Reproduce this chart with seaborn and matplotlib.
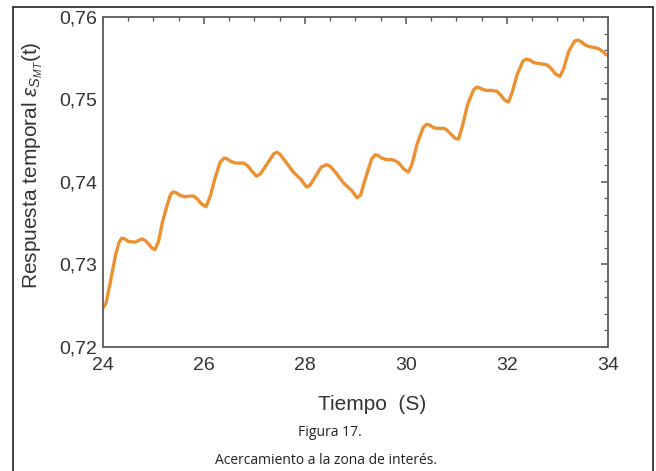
import numpy as np
import pandas as pd
import matplotlib
matplotlib.use("Agg")
import matplotlib.pyplot as plt
from matplotlib.ticker import MultipleLocator, FuncFormatter
from matplotlib.lines import Line2D
import seaborn as sns

tiempo = [24.00, 24.06, 24.15, 24.25, 24.32, 24.37, 24.43, 24.50, 24.63, 24.70, 24.77,
          24.84, 24.90, 24.97, 25.03, 25.10, 25.18, 25.28, 25.34, 25.39, 25.45, 25.52,
          25.62, 25.72, 25.79, 25.86, 25.94, 26.04, 26.12, 26.22, 26.32, 26.40, 26.46,
          26.53, 26.62, 26.78, 26.86, 26.95, 27.04, 27.12, 27.25, 27.38, 27.44, 27.50,
          27.60, 27.77, 27.92, 28.03, 28.10, 28.20, 28.32, 28.43, 28.50, 28.60, 28.76,
          28.92, 29.03, 29.10, 29.20, 29.32, 29.39, 29.45, 29.52, 29.62, 29.72, 29.78,
          29.86, 29.95, 30.05, 30.12, 30.22, 30.34, 30.41, 30.47, 30.54, 30.61, 30.75,
          30.81, 30.89, 30.97, 31.04, 31.11, 31.22, 31.34, 31.40, 31.46, 31.53, 31.60,
          31.70, 31.80, 31.88, 31.96, 32.03, 32.10, 32.20, 32.32, 32.39, 32.45, 32.52,
          32.59, 32.70, 32.79, 32.87, 32.96, 33.05, 33.12, 33.22, 33.34, 33.41, 33.47,
          33.55, 33.64, 33.72, 33.80, 33.88, 33.97]
respuesta = [0.7247, 0.7253, 0.7280, 0.7312, 0.7327, 0.7332, 0.7331, 0.7328, 0.7327, 0.7329, 0.7331,
             0.7329, 0.7325, 0.7320, 0.7318, 0.7328, 0.7352, 0.7374, 0.7385, 0.7388, 0.7387, 0.7384,
             0.7382, 0.7383, 0.7383, 0.7380, 0.7374, 0.7370, 0.7382, 0.7405, 0.7424, 0.7429, 0.7428,
             0.7425, 0.7423, 0.7423, 0.7420, 0.7413, 0.7407, 0.7410, 0.7422, 0.7434, 0.7436, 0.7434,
             0.7426, 0.7412, 0.7403, 0.7394, 0.7396, 0.7406, 0.7418, 0.7421, 0.7419, 0.7412, 0.7399,
             0.7390, 0.7381, 0.7384, 0.7405, 0.7428, 0.7433, 0.7432, 0.7429, 0.7427, 0.7427, 0.7426,
             0.7423, 0.7416, 0.7412, 0.7422, 0.7446, 0.7466, 0.7470, 0.7469, 0.7466, 0.7465, 0.7465,
             0.7463, 0.7458, 0.7453, 0.7452, 0.7466, 0.7494, 0.7512, 0.7515, 0.7514, 0.7512, 0.7511,
             0.7511, 0.7510, 0.7505, 0.7499, 0.7497, 0.7508, 0.7530, 0.7547, 0.7549, 0.7548, 0.7545,
             0.7544, 0.7543, 0.7542, 0.7538, 0.7531, 0.7528, 0.7537, 0.7558, 0.7571, 0.7572, 0.7570,
             0.7566, 0.7564, 0.7563, 0.7562, 0.7559, 0.7554]

df = pd.DataFrame({"t": tiempo, "r": respuesta})

sns.set_style("white")
plt.rcParams['font.family'] = ['Liberation Sans', 'DejaVu Sans']
plt.rcParams['mathtext.fontset'] = 'custom'
plt.rcParams['mathtext.rm'] = 'Liberation Sans'
plt.rcParams['mathtext.it'] = 'Liberation Sans:italic'

fig = plt.figure(figsize=(6.56, 4.71), dpi=100)
ax = fig.add_axes([0.157, 0.2633, 0.7698, 0.7006])

sns.lineplot(data=df, x="t", y="r", ax=ax, color="#EC9131", linewidth=2.4)
for ln in ax.lines:
    ln.set_solid_joinstyle("round")
    ln.set_solid_capstyle("round")

ax.set_xlim(24, 34)
ax.set_ylim(0.72, 0.76)
ax.xaxis.set_major_locator(MultipleLocator(2))
ax.xaxis.set_minor_locator(MultipleLocator(0.5))
ax.yaxis.set_major_locator(MultipleLocator(0.01))
ax.yaxis.set_minor_locator(MultipleLocator(0.002))
ax.xaxis.set_major_formatter(FuncFormatter(lambda v, p: f"{v:.0f}"))
ax.yaxis.set_major_formatter(FuncFormatter(lambda v, p: f"{v:.2f}".replace(".", ",")))

for s in ax.spines.values():
    s.set_color("#666666")
    s.set_linewidth(1.4)
    s.set_visible(True)
ax.tick_params(which="both", direction="in", top=True, right=True, color="#555555",
               labelcolor="#333333", labelsize=14)
ax.tick_params(which="major", length=5, width=1.1)
ax.tick_params(axis="y", which="major", pad=4)
ax.tick_params(axis="x", which="major", pad=7)
ax.tick_params(which="minor", length=3, width=0.9)

ax.set_xlabel("Tiempo  (S)", fontsize=15, color="#333333")
ax.xaxis.set_label_coords(0.532, -0.145)
ax.xaxis.label.set_va("top")
ax.set_ylabel(r"Respuesta temporal $\epsilon_{S_{MT}}$(t)", fontsize=15, color="#333333")
ax.yaxis.set_label_coords(-0.115, 0.55)

# page frame
for xs, ys in [([13, 653], [7, 7]), ([13, 13], [7, 471]), ([653, 653], [7, 471])]:
    fig.add_artist(Line2D([x / 656 for x in xs], [1 - y / 471 for y in ys],
                          color="#222222", linewidth=1.2, transform=fig.transFigure))

fig.text(330 / 656, 1 - 433 / 471, "Figura 17.", ha="center", va="center",
         fontsize=10, family="Open Sans", color="#222222")
fig.text(326 / 656, 1 - 460 / 471, "Acercamiento a la zona de interés.", ha="center", va="center",
         fontsize=10, family="Open Sans", color="#222222")

fig.savefig("out.png", dpi=100)
